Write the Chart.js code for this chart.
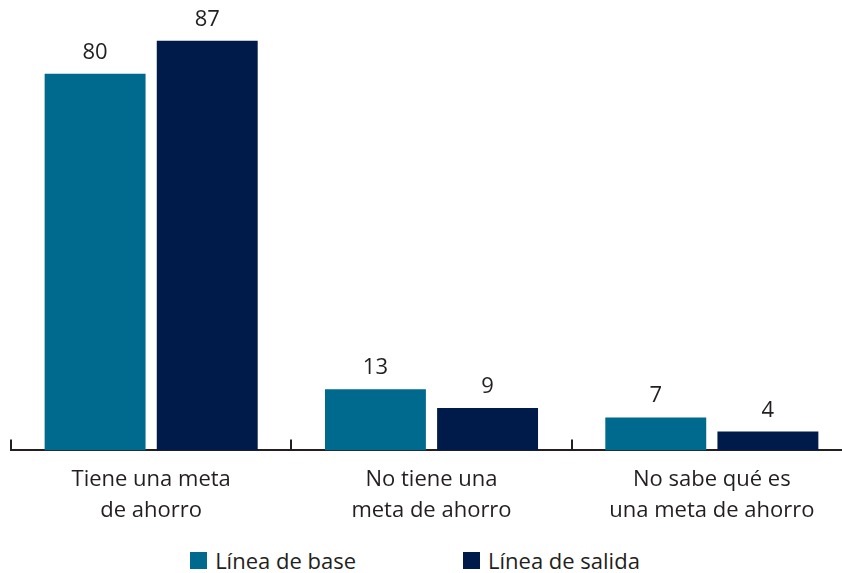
<!DOCTYPE html>
<html>
<head>
<meta charset="utf-8">
<script src="https://cdn.jsdelivr.net/npm/chart.js@4.4.0/dist/chart.umd.min.js"></script>
<style>
  html, body { margin: 0; padding: 0; background: #fff; overflow: hidden; }
  #wrap { width: 852px; height: 544px; }
  #legend {
    display: flex; justify-content: center; gap: 107px;
    width: 842px; padding-right: 12px; box-sizing: border-box;
    height: 29px; padding-top: 3px;
    font-family: 'Open Sans', 'Noto Sans', sans-serif; font-size: 22px; color: #231f20;
  }
  #legend .item { display: flex; align-items: center; line-height: 22px; }
  #legend .box { width: 17px; height: 17px; margin-right: 8px; }
</style>
</head>
<body>
<div id="wrap"><canvas id="myChart" width="852" height="544"></canvas></div>
<div id="legend"></div>
<script>
const categories = [
  ['Tiene una meta', 'de ahorro'],
  ['No tiene una', 'meta de ahorro'],
  ['No sabe qué es', 'una meta de ahorro']
];
const baseValues = [80, 13, 7];
const salidaValues = [87, 9, 4];
const seriesNames = ['Línea de base', 'Línea de salida'];
const seriesColors = ['#00698e', '#001a49'];

const textColor = '#231f20';
const fontFamily = "'Open Sans', 'Noto Sans', sans-serif";

// value labels over every bar
const barLabels = {
  id: 'barLabels',
  afterDatasetsDraw(chart) {
    const ctx = chart.ctx;
    ctx.save();
    ctx.font = '22px ' + fontFamily;
    ctx.fillStyle = textColor;
    ctx.textAlign = 'center';
    ctx.textBaseline = 'alphabetic';
    chart.data.datasets.forEach((ds, i) => {
      chart.getDatasetMeta(i).data.forEach((bar, j) => {
        ctx.fillText(ds.data[j], bar.x, bar.y - 15);
      });
    });
    ctx.restore();
  }
};

// small upward ticks at the category borders
const borderTicks = {
  id: 'borderTicks',
  afterDraw(chart) {
    const x = chart.scales.x;
    const ctx = chart.ctx;
    const y0 = chart.chartArea.bottom;
    ctx.save();
    ctx.strokeStyle = textColor;
    ctx.lineWidth = 2;
    for (let i = 0; i <= categories.length; i++) {
      const px = x.getPixelForValue(i - 0.5);
      ctx.beginPath();
      ctx.moveTo(Math.round(px), y0);
      ctx.lineTo(Math.round(px), y0 - 11);
      ctx.stroke();
    }
    ctx.restore();
  }
};

const chart = new Chart(document.getElementById('myChart').getContext('2d'), {
  type: 'bar',
  data: {
    labels: categories,
    datasets: [
      { label: seriesNames[0], data: baseValues, backgroundColor: seriesColors[0] },
      { label: seriesNames[1], data: salidaValues, backgroundColor: seriesColors[1] }
    ]
  },
  options: {
    responsive: false,
    animation: false,
    categoryPercentage: 0.8,
    barPercentage: 0.9,
    layout: { padding: { left: 11, right: 0, top: 3, bottom: 12 } },
    scales: {
      x: {
        grid: { display: false },
        border: { display: true, color: textColor, width: 2 },
        ticks: {
          color: textColor,
          font: { family: fontFamily, size: 22, lineHeight: 1.4 },
          padding: 6,
          maxRotation: 0
        }
      },
      y: { display: false, min: 0, max: 95 }
    },
    plugins: {
      legend: { display: false },
      tooltip: { enabled: false }
    }
  },
  plugins: [barLabels, borderTicks]
});

// html legend built from the chart datasets
const legendEl = document.getElementById('legend');
chart.data.datasets.forEach(ds => {
  const item = document.createElement('div');
  item.className = 'item';
  item.innerHTML = `<span class="box" style="background:${ds.backgroundColor}"></span>${ds.label}`;
  legendEl.appendChild(item);
});
</script>
</body>
</html>
